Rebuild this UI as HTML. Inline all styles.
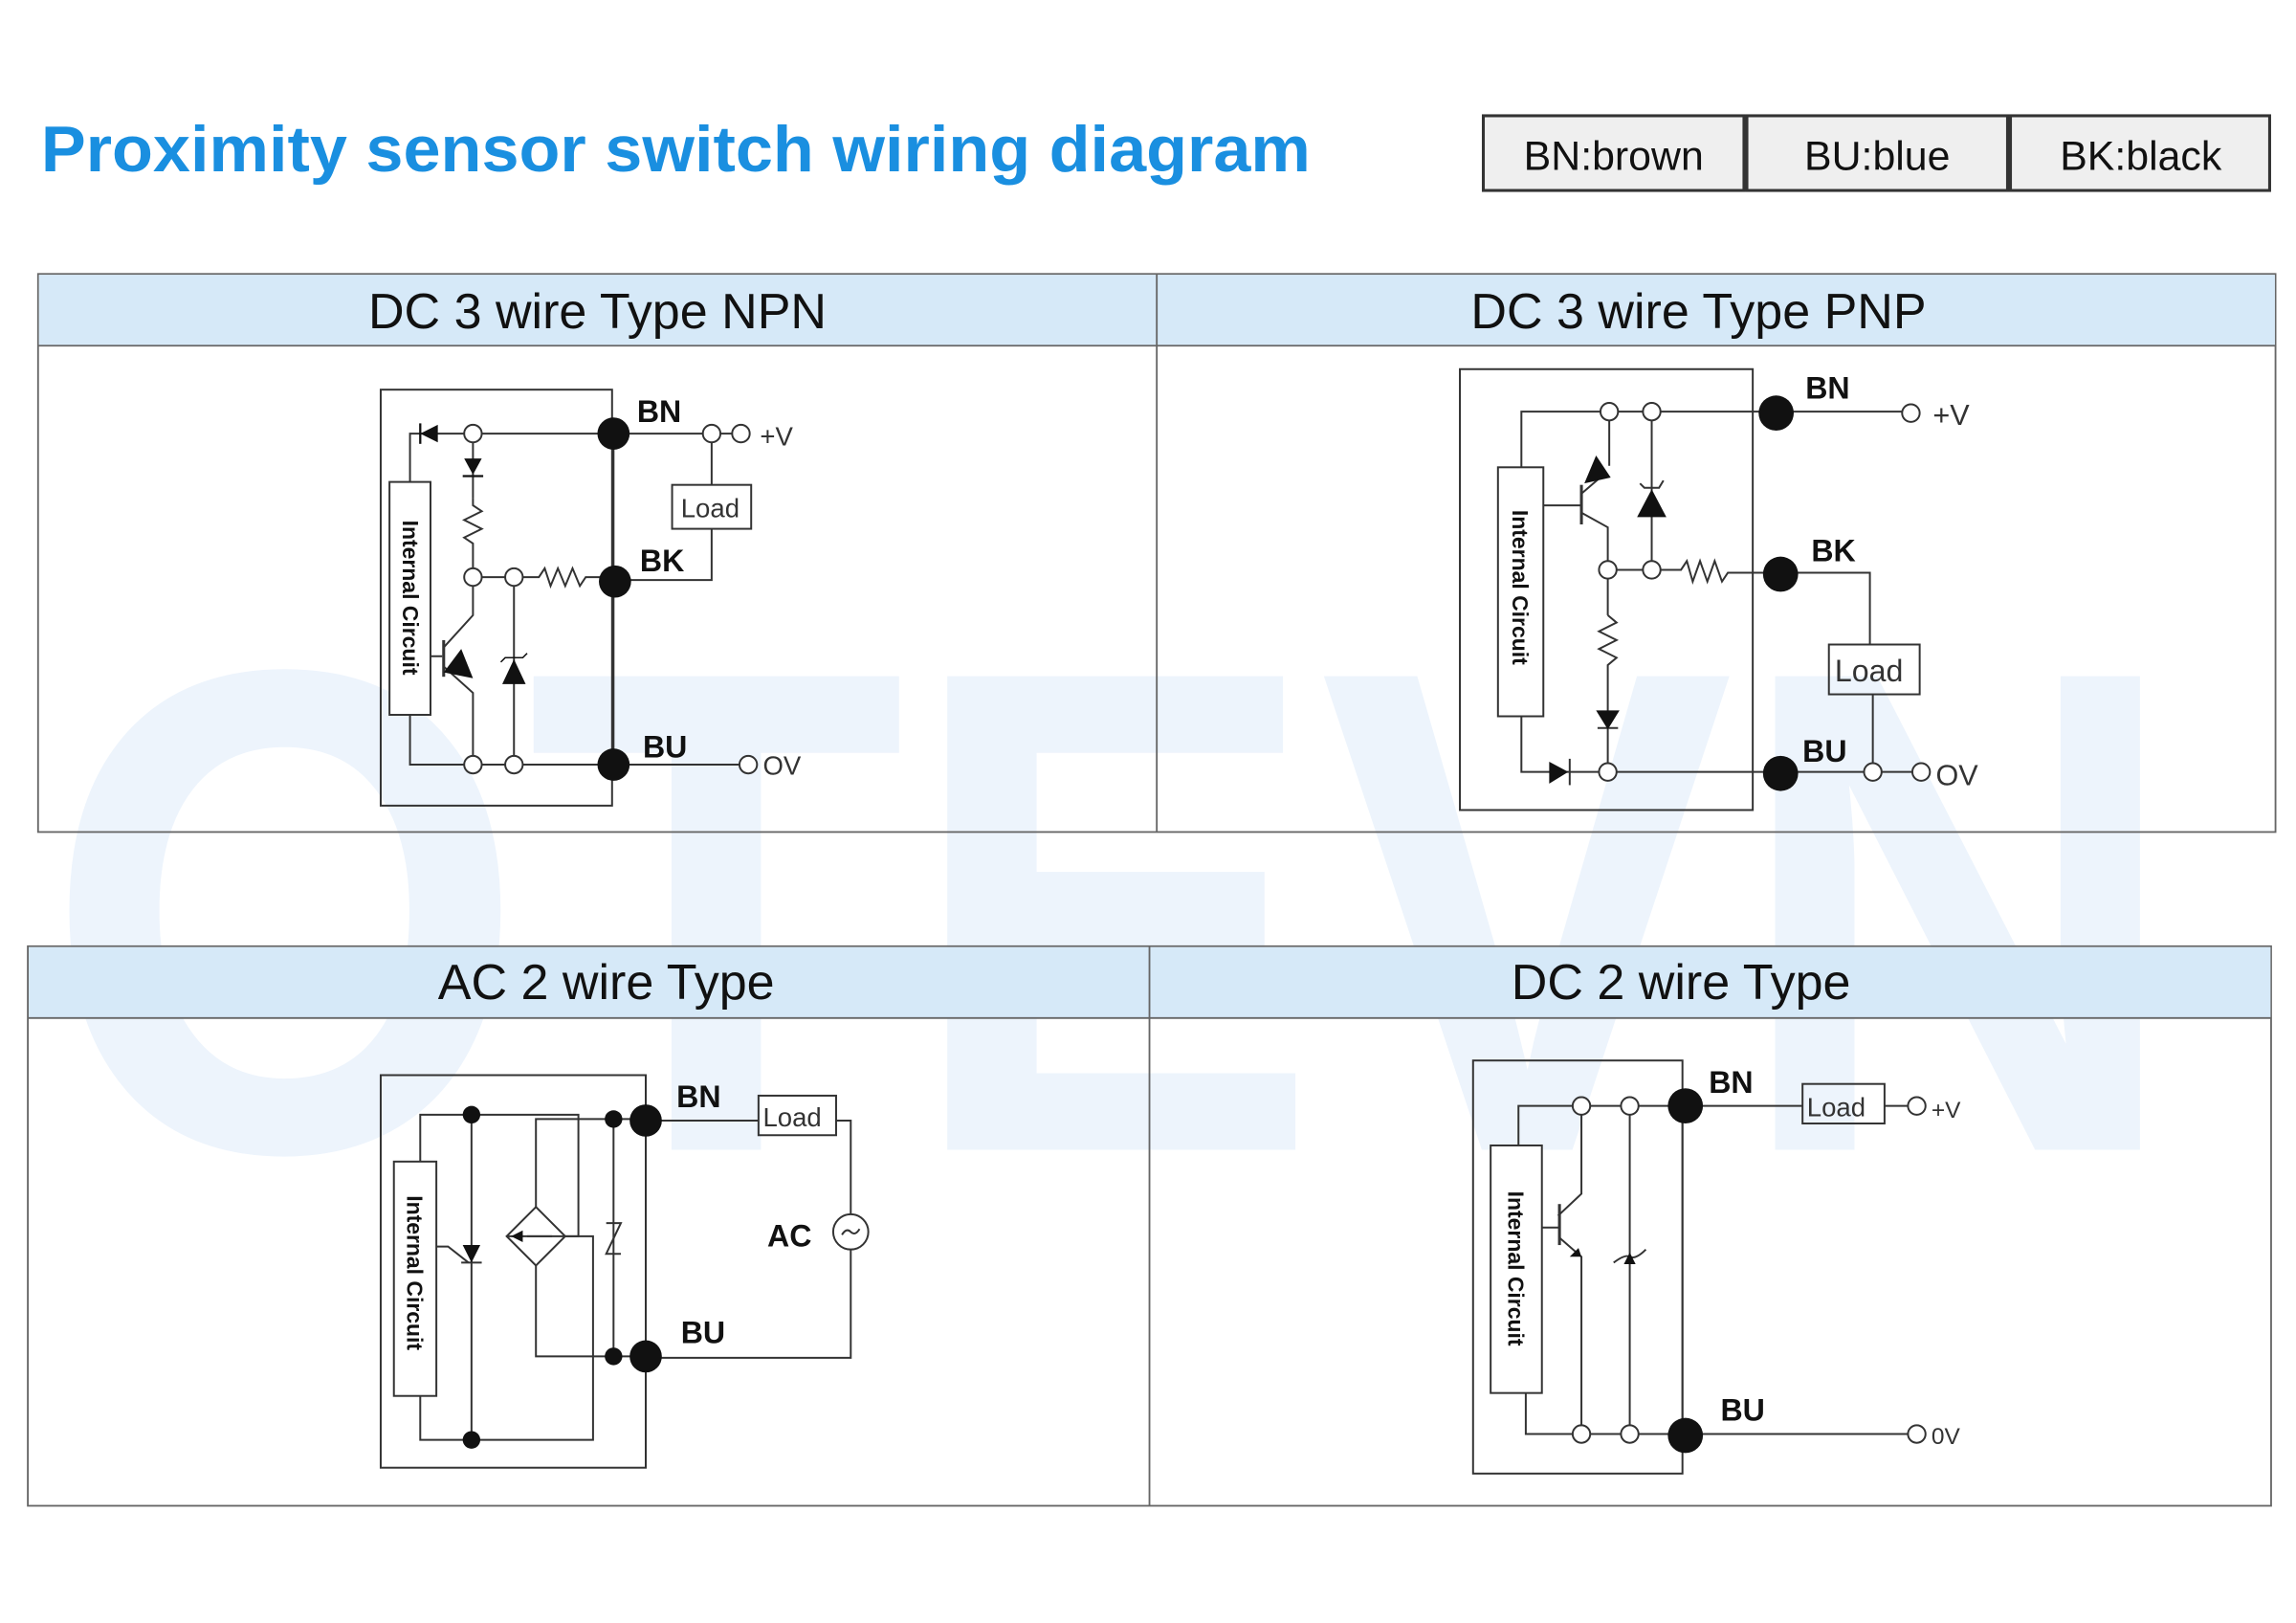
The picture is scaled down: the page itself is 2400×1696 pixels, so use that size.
<!DOCTYPE html>
<html><head><meta charset="utf-8"><style>html,body{margin:0;padding:0;background:#fff}svg{display:block}</style></head><body>
<svg width="2400" height="1696" viewBox="0 0 1568 1108" xmlns="http://www.w3.org/2000/svg" font-family="Liberation Sans, sans-serif">
<rect width="1568" height="1108" fill="#fff"/>
<!-- watermark -->
<text x="30" y="785" font-size="470" font-weight="bold" fill="#edf4fc" textLength="1460" lengthAdjust="spacingAndGlyphs">OTEVN</text>
<!-- title -->
<text x="28" y="117" font-size="44" font-weight="bold" fill="#1a8fe0" textLength="867" lengthAdjust="spacingAndGlyphs">Proximity sensor switch wiring diagram</text>
<g stroke="#333" stroke-width="2" fill="#efefef">
<rect x="1013" y="79" width="178" height="51"/><rect x="1193" y="79" width="178" height="51"/><rect x="1373" y="79" width="177" height="51"/></g>
<g font-size="28" fill="#111" text-anchor="middle"><text x="1102" y="116">BN:brown</text><text x="1282" y="116">BU:blue</text><text x="1462" y="116">BK:black</text></g>
<!-- panels -->
<g fill="none" stroke="#666" stroke-width="1.2">
<rect x="26" y="187" width="1528" height="381"/>
<rect x="19" y="646" width="1532" height="382"/></g>
<rect x="26.6" y="187.6" width="1527" height="48.5" fill="#d6e9f8"/>
<rect x="19.6" y="646.6" width="1531" height="48.5" fill="#d6e9f8"/>
<g stroke="#666" stroke-width="1.2"><line x1="26" y1="236" x2="1554" y2="236"/><line x1="790" y1="187" x2="790" y2="568"/><line x1="19" y1="695" x2="1551" y2="695"/><line x1="785" y1="646" x2="785" y2="1028"/></g>
<g font-size="34" fill="#111" text-anchor="middle"><text x="408" y="224">DC 3 wire Type NPN</text><text x="1160" y="224">DC 3 wire Type PNP</text><text x="414" y="682">AC 2 wire Type</text><text x="1148" y="682">DC 2 wire Type</text></g>

<g stroke="#333" stroke-width="1.3" fill="none">
<!-- NPN -->
<rect x="260" y="266" width="158" height="284"/>
<rect x="266" y="329" width="28" height="159" fill="#fff"/>
<polyline points="280,329 280,296 419,296"/>
<line x1="419" y1="296" x2="419" y2="522"/>
<line x1="323" y1="302" x2="323" y2="340"/>
<polyline points="323,340 323,345 329,349 317,355 329,361 317,367 323,371 323,388"/>
<line x1="329" y1="394" x2="345" y2="394"/>
<polyline points="357,394 368,394 372,388 376,400 381,388 386,400 391,388 396,400 400,394 420,394"/>
<line x1="294" y1="448" x2="302" y2="448"/>
<line x1="303" y1="437" x2="303" y2="462" stroke-width="2"/>
<polyline points="303,442 323,420 323,400"/>
<polyline points="303,455 323,473 323,516"/>
<line x1="351" y1="400" x2="351" y2="516"/>
<polyline points="280,488 280,522 317,522"/><line x1="329" y1="522" x2="345" y2="522"/><line x1="357" y1="522" x2="419" y2="522"/>
<polyline points="419,296 480,296"/><line x1="492" y1="296" x2="500" y2="296"/>
<line x1="486" y1="302" x2="486" y2="331"/><polyline points="486,361 486,396 420,396"/>
<rect x="459" y="331" width="54" height="30"/>
<line x1="419" y1="522" x2="505" y2="522"/>
<g fill="#fff"><circle cx="323" cy="296" r="6"/><circle cx="323" cy="394" r="6"/><circle cx="351" cy="394" r="6"/><circle cx="323" cy="522" r="6"/><circle cx="351" cy="522" r="6"/><circle cx="486" cy="296" r="6"/><circle cx="506" cy="296" r="6"/><circle cx="511" cy="522" r="6"/></g>
<!-- PNP -->
<rect x="997" y="252" width="200" height="301"/>
<rect x="1023" y="319" width="31" height="170" fill="#fff"/>
<polyline points="1039,319 1039,281 1093,281"/><line x1="1105" y1="281" x2="1122" y2="281"/><line x1="1134" y1="281" x2="1213" y2="281"/>
<line x1="1099" y1="287" x2="1099" y2="318"/>
<line x1="1054" y1="345" x2="1080" y2="345"/>
<line x1="1080" y1="331" x2="1080" y2="358" stroke-width="2"/>
<polyline points="1080,350 1098,360 1098,383"/>
<line x1="1080" y1="337" x2="1094" y2="325"/>
<line x1="1128" y1="287" x2="1128" y2="383"/>
<polyline points="1120,330 1123,333 1133,333 1136,328"/>
<line x1="1104" y1="389" x2="1122" y2="389"/>
<polyline points="1134,389 1148,389 1152,383 1156,397 1161,383 1166,397 1171,383 1176,397 1180,391 1216,391"/>
<line x1="1098" y1="395" x2="1098" y2="420"/>
<polyline points="1098,420 1104,425 1092,431 1104,437 1092,443 1104,449 1098,454 1098,521"/>
<line x1="1091" y1="497" x2="1105" y2="497"/>
<polyline points="1039,489 1039,527 1092,527"/><line x1="1072" y1="518" x2="1072" y2="536"/>
<line x1="1104" y1="527" x2="1216" y2="527"/>
<line x1="1213" y1="281" x2="1299" y2="281"/>
<polyline points="1216,391 1277,391 1277,440"/>
<rect x="1249" y="440" width="62" height="34"/>
<line x1="1279" y1="474" x2="1279" y2="521"/>
<line x1="1216" y1="527" x2="1273" y2="527"/><line x1="1285" y1="527" x2="1306" y2="527"/>
<g fill="#fff"><circle cx="1099" cy="281" r="6"/><circle cx="1128" cy="281" r="6"/><circle cx="1098" cy="389" r="6"/><circle cx="1128" cy="389" r="6"/><circle cx="1098" cy="527" r="6"/><circle cx="1305" cy="282" r="6"/><circle cx="1279" cy="527" r="6"/><circle cx="1312" cy="527" r="6"/></g>
<!-- AC -->
<rect x="260" y="734" width="181" height="268"/>
<rect x="269" y="793" width="29" height="160" fill="#fff"/>
<polyline points="287,793 287,761 395,761 395,844 346,844"/>
<line x1="322" y1="761" x2="322" y2="983"/>
<polyline points="287,953 287,983 405,983 405,844 386,844"/>
<polygon points="366,824 386,844 366,864 346,844"/>
<line x1="360" y1="844" x2="377" y2="844"/>
<polyline points="366,824 366,764 441,764"/>
<polyline points="366,864 366,926 441,926"/>
<line x1="419" y1="764" x2="419" y2="926"/>
<polyline points="414,835 424,835 414,856 424,856"/>
<line x1="315" y1="862" x2="329" y2="862"/>
<polyline points="298,851 306,851 320,862"/>
<line x1="441" y1="734" x2="441" y2="1002"/>
<line x1="441" y1="765" x2="518" y2="765"/>
<rect x="518" y="748" width="53" height="27"/>
<polyline points="571,765 581,765 581,829"/>
<circle cx="581" cy="841" r="12" fill="#fff"/>
<path d="M575,843 q3,-5 6,-2 q3,3 6,-2"/>
<polyline points="581,853 581,927 441,927"/>
<!-- DC2 -->
<rect x="1006" y="724" width="143" height="282"/>
<rect x="1018" y="782" width="35" height="169" fill="#fff"/>
<polyline points="1037,782 1037,755 1074,755"/><line x1="1086" y1="755" x2="1107" y2="755"/><line x1="1119" y1="755" x2="1231" y2="755"/>
<polyline points="1080,761 1080,815 1064,830"/>
<line x1="1065" y1="822" x2="1065" y2="850" stroke-width="2"/>
<line x1="1053" y1="838" x2="1065" y2="838"/>
<polyline points="1065,845 1080,858 1080,973"/>
<line x1="1113" y1="761" x2="1113" y2="973"/>
<path d="M1102,862 q8,-6 11,-4 q4,2 11,-5"/>
<polyline points="1042,951 1042,979 1074,979"/><line x1="1086" y1="979" x2="1107" y2="979"/><line x1="1119" y1="979" x2="1303" y2="979"/>
<line x1="1149" y1="755" x2="1149" y2="980"/>
<rect x="1231" y="740" width="56" height="27"/>
<line x1="1287" y1="755" x2="1303" y2="755"/>
<g fill="#fff"><circle cx="1080" cy="755" r="6"/><circle cx="1113" cy="755" r="6"/><circle cx="1080" cy="979" r="6"/><circle cx="1113" cy="979" r="6"/><circle cx="1309" cy="755" r="6"/><circle cx="1309" cy="979" r="6"/></g>
</g>
<!-- filled shapes -->
<g fill="#111">
<polygon points="287,296 299,290 299,302"/><line x1="287" y1="289" x2="287" y2="303" stroke="#111" stroke-width="1.5"/>
<polygon points="317,313 329,313 323,324"/><line x1="316" y1="325" x2="330" y2="325" stroke="#111" stroke-width="1.5"/>
<polygon points="303,459 315,443 323,463"/>
<polygon points="343,467 359,467 351,450"/><polyline points="342,452 345,449 357,449 360,446" stroke="#111" fill="none"/>
<polygon points="1082,330 1090,311 1100,326"/>
<polygon points="1118,353 1138,353 1128,334"/>
<polygon points="1090,485 1106,485 1098,498"/>
<polygon points="1058,520 1058,535 1071,527"/>
<polygon points="316,850 328,850 322,862"/>
<polygon points="349,844 357,840 357,848"/>
<polygon points="1072,858 1080,858 1078,852"/>
<polygon points="1109,863 1117,863 1113,855"/>
<circle cx="419" cy="296" r="11"/><circle cx="420" cy="397" r="11"/><circle cx="419" cy="522" r="11"/>
<circle cx="1213" cy="282" r="12"/><circle cx="1216" cy="392" r="12"/><circle cx="1216" cy="528" r="12"/>
<circle cx="441" cy="765" r="11"/><circle cx="441" cy="926" r="11"/>
<circle cx="322" cy="761" r="6"/><circle cx="322" cy="983" r="6"/><circle cx="419" cy="764" r="6"/><circle cx="419" cy="926" r="6"/>
<circle cx="1151" cy="755" r="12"/><circle cx="1151" cy="980" r="12"/>
</g>
<!-- labels -->
<g font-weight="bold" font-size="21" fill="#111">
<text x="435" y="288">BN</text><text x="437" y="390">BK</text><text x="439" y="517">BU</text>
<text x="1233" y="272">BN</text><text x="1237" y="383">BK</text><text x="1231" y="520">BU</text>
<text x="462" y="756">BN</text><text x="465" y="917">BU</text><text x="524" y="851">AC</text>
<text x="1167" y="746">BN</text><text x="1175" y="970">BU</text>
</g>
<g font-size="18" fill="#333">
<text x="519" y="304">+V</text><text x="521" y="529">OV</text><text x="465" y="353">Load</text>
<text x="1320" y="290" font-size="20">+V</text><text x="1322" y="536" font-size="20">OV</text><text x="1253" y="465" font-size="21">Load</text>
<text x="521" y="769">Load</text>
<text x="1234" y="762">Load</text><text x="1319" y="763" font-size="16">+V</text><text x="1319" y="986" font-size="16">0V</text>
</g>
<g font-weight="bold" font-size="15" fill="#111" text-anchor="middle">
<text transform="translate(275,408) rotate(90)">Internal Circuit</text>
<text transform="translate(1033,401) rotate(90)">Internal Circuit</text>
<text transform="translate(278,869) rotate(90)">Internal Circuit</text>
<text transform="translate(1030,866) rotate(90)">Internal Circuit</text>
</g>
</svg>
</body></html>
